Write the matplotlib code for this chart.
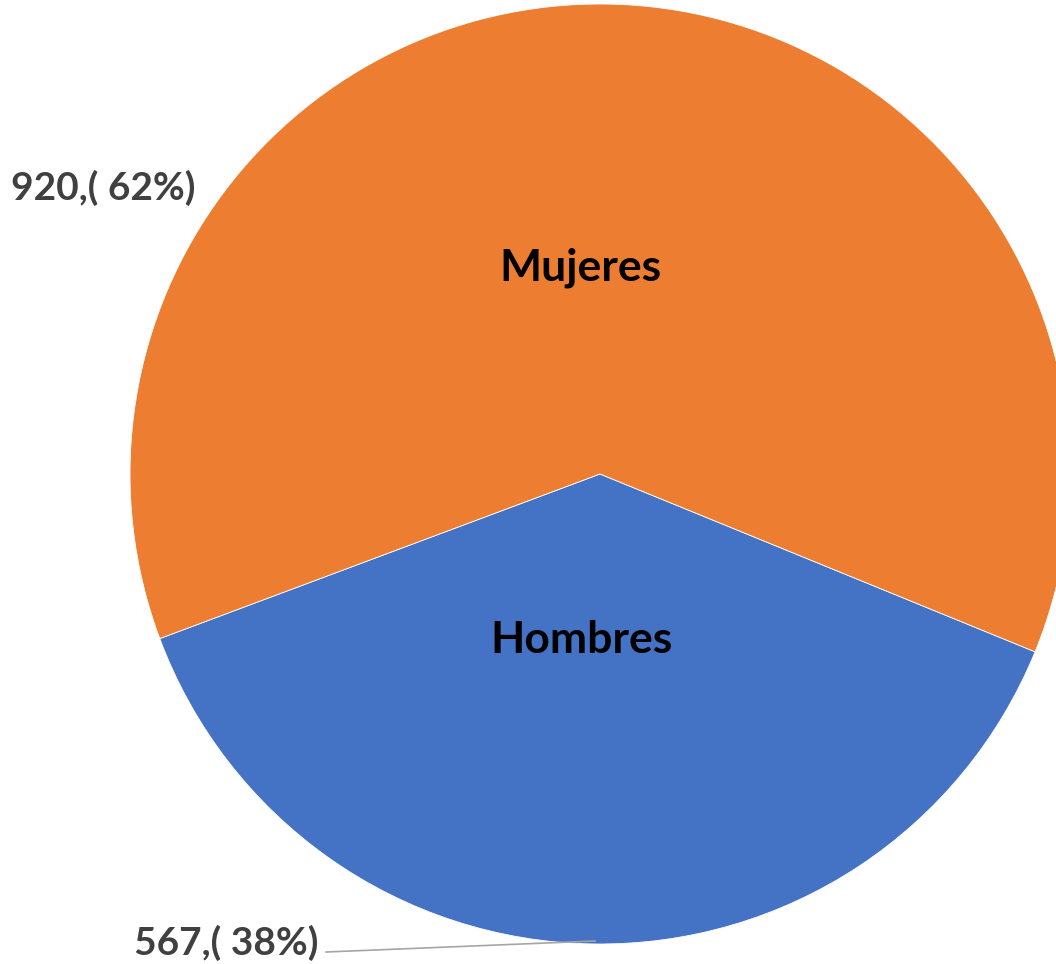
import matplotlib.pyplot as plt

categories = ["Hombres", "Mujeres"]
values = [567, 920]
colors = ["#4472C4", "#ED7D31"]

total = sum(values)
labels_out = ["%d,( %d%%)" % (v, round(100 * v / total)) for v in values]

plt.rcParams["font.family"] = ["Lato", "DejaVu Sans"]

fig = plt.figure(figsize=(10.56, 9.64), dpi=100)
ax = fig.add_axes([0, 0, 1, 1])

# pixel-style coordinates, y going up
cx, cy, r = 600, 964 - 474, 470
start = 200.5
wedges, _ = ax.pie(values, colors=colors, startangle=start, counterclock=True,
                   center=(cx, cy), radius=r,
                   wedgeprops=dict(edgecolor="white", linewidth=0.6))
ax.set_xlim(0, 1056)
ax.set_ylim(0, 964)
ax.set_aspect("equal")
ax.axis("off")

# inner category labels
ax.text(580, 964 - 268, categories[1], ha="center", va="center",
        fontsize=32, fontweight="bold", color="black")
ax.text(582, 964 - 640, categories[0], ha="center", va="center",
        fontsize=32, fontweight="bold", color="black")

# outer value labels
ax.text(103, 964 - 188, labels_out[1], ha="center", va="center",
        fontsize=28, fontweight="bold", color="#404040")
ax.text(226, 964 - 943, labels_out[0], ha="center", va="center",
        fontsize=28, fontweight="bold", color="#404040")
ax.plot([326, 595], [964 - 952, 964 - 941], color="#A6A6A6", lw=1.2)

fig.savefig("out.png", dpi=100, facecolor="white")
